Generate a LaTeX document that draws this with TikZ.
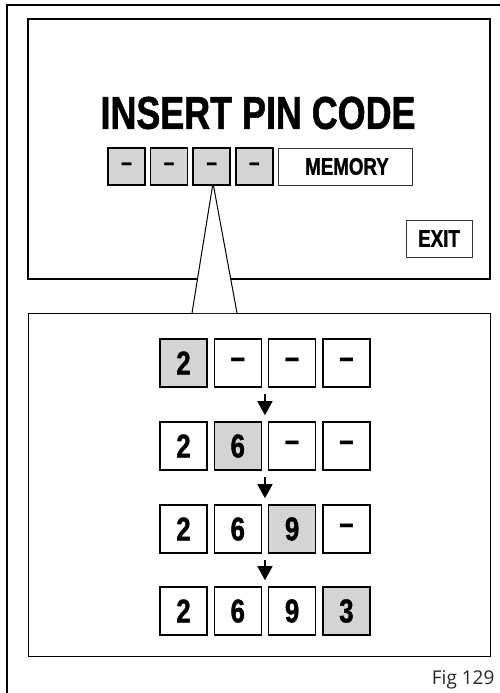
\documentclass[tikz,border=0pt]{standalone}
\usepackage{fontspec}
\setmainfont{Liberation Sans}
\newfontfamily\condfont{Liberation Sans}[FakeStretch=0.78, FakeBold=1.2]
\newfontfamily\figfont{Open Sans}
\usetikzlibrary{arrows.meta,positioning,calc}
\definecolor{pingray}{RGB}{212,212,212}

\begin{document}
\begin{tikzpicture}[x=1pt, y=-1pt,
  pin/.style={rectangle, draw, line width=1.6pt, fill=pingray, minimum width=37pt,
              minimum height=37pt, inner sep=0pt, font=\condfont\bfseries\fontsize{24}{24}\selectfont},
  digit/.style={rectangle, draw, line width=1.6pt, fill=white, minimum width=47pt,
                minimum height=48pt, inner sep=0pt, font=\condfont\bfseries\fontsize{33}{33}\selectfont},
  active/.style={digit, fill=pingray},
  button/.style={rectangle, draw=black!80, line width=0.9pt, fill=white, minimum height=37pt,
                 inner sep=0pt, font=\condfont\bfseries\fontsize{24}{24}\selectfont},
  arrow/.style={-{Triangle[length=14pt, width=15pt]}, line width=1.5pt,
                shorten <=6pt, shorten >=6pt},
  node distance=4pt
]
  \useasboundingbox (0,0) rectangle (500,693);

  % page frame
  \draw[line width=1.3pt] (500,5) -- (7,5) -- (7,693);

  % screen and zoom panel
  \draw[line width=2pt] (28,19) rectangle (490,279);
  \draw[line width=1pt] (28,313) rectangle (490,656);

  \node[font=\condfont\bfseries\fontsize{46}{46}\selectfont] (title) at (258,113) {INSERT PIN CODE};

  % callout
  \coordinate (tip) at (213,183);
  \coordinate (footl) at (192,313);
  \coordinate (footr) at (237,313);
  \fill[white] (tip) -- ([xshift=0.5pt]footl) -- ([xshift=-0.5pt]footr) -- cycle;
  \draw[line width=1pt] (footl) -- (tip) -- (footr);

  % pin entry on screen
  \node[pin] (pa) at (126.5,166.5) {\textendash};
  \node[pin, right=of pa] (pb) {\textendash};
  \node[pin, right=of pb] (pc) {\textendash};
  \node[pin, right=of pc] (pd) {\textendash};
  \node[button, minimum width=134pt] (memory) at (345,166.5) {\hspace*{4pt}MEMORY};
  \node[button, minimum width=66pt] (exit) at (439,238.5) {EXIT};

  % digit sequence
  \begin{scope}[node distance=5.7pt]
    \node[active] (r1a) at (183.5,363) {2};
    \node[digit, right=of r1a] (r1b) {\textendash};
    \node[digit, right=of r1b] (r1c) {\textendash};
    \node[digit, right=of r1c] (r1d) {\textendash};

    \node[digit] (r2a) at (183.5,446) {2};
    \node[active, right=of r2a] (r2b) {6};
    \node[digit, right=of r2b] (r2c) {\textendash};
    \node[digit, right=of r2c] (r2d) {\textendash};

    \node[digit] (r3a) at (183.5,529) {2};
    \node[digit, right=of r3a] (r3b) {6};
    \node[active, right=of r3b] (r3c) {9};
    \node[digit, right=of r3c] (r3d) {\textendash};

    \node[digit] (r4a) at (183.5,611) {2};
    \node[digit, right=of r4a] (r4b) {6};
    \node[digit, right=of r4b] (r4c) {9};
    \node[active, right=of r4c] (r4d) {3};
  \end{scope}

  \draw[arrow] ($(r1b.south east)!0.5!(r1c.south west)$) -- ($(r2b.north east)!0.5!(r2c.north west)$);
  \draw[arrow] ($(r2b.south east)!0.5!(r2c.south west)$) -- ($(r3b.north east)!0.5!(r3c.north west)$);
  \draw[arrow] ($(r3b.south east)!0.5!(r3c.south west)$) -- ($(r4b.north east)!0.5!(r4c.north west)$);

  \node[anchor=east, font=\figfont\fontsize{19}{19}\selectfont, text=black!85] (fig) at (498,680) {Fig 129};
\end{tikzpicture}
\end{document}
